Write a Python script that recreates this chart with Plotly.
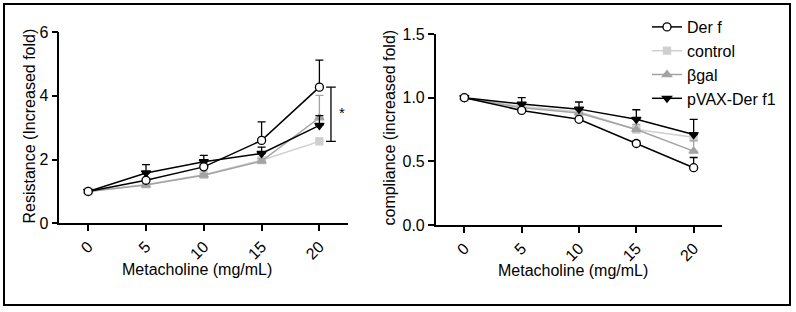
import plotly.graph_objects as go

# ---------------- data ----------------
dose = [0, 5, 10, 15, 20]
series_names = ["Der f", "control", "βgal", "pVAX-Der f1"]

# Resistance (increased fold)
res_derf = [1.00, 1.35, 1.77, 2.60, 4.27]
res_derf_err = [0.02, 0.05, 0.08, 0.58, 0.85]
res_control = [1.00, 1.22, 1.52, 1.98, 2.57]
res_control_err = [0.02, 0.03, 0.04, 0.06, 0.10]
res_bgal = [1.00, 1.20, 1.51, 1.95, 3.31]
res_bgal_err = [0.02, 0.04, 0.05, 0.08, 0.70]
res_pvax = [1.00, 1.58, 1.93, 2.19, 3.07]
res_pvax_err = [0.02, 0.26, 0.20, 0.20, 0.31]

# Compliance (increased fold)
com_derf = [1.00, 0.90, 0.83, 0.64, 0.45]
com_derf_err = [0.005, 0.01, 0.01, 0.02, 0.08]
com_control = [1.00, 0.93, 0.89, 0.75, 0.69]
com_control_err = [0.005, 0.02, 0.02, 0.03, 0.03]
com_bgal = [1.00, 0.92, 0.88, 0.75, 0.58]
com_bgal_err = [0.005, 0.02, 0.02, 0.04, 0.08]
com_pvax = [1.00, 0.95, 0.91, 0.83, 0.71]
com_pvax_err = [0.005, 0.05, 0.056, 0.075, 0.12]

res_yticks = [0, 2, 4, 6]
com_yticks = [0.0, 0.5, 1.0, 1.5]
x_title = "Metacholine (mg/mL)"
res_title = "Resistance (Increased fold)"
com_title = "compliance (increased fold)"
sig_label = "*"

# ---------------- styles ----------------
FONT = "Arial, Liberation Sans, sans-serif"
styles = {
    "Der f": dict(color="#000000", symbol="circle", fill="#ffffff", size=8, rank=1),
    "control": dict(color="#cfcfcf", symbol="square", fill="#cfcfcf", size=7, rank=2),
    "βgal": dict(color="#a3a3a3", symbol="triangle-up", fill="#a3a3a3", size=8, rank=3),
    "pVAX-Der f1": dict(color="#000000", symbol="triangle-down", fill="#000000", size=8, rank=4),
}

W, H = 796, 312

def px_x(p):
    return p / W

def px_y(p):
    return 1 - p / H

fig = go.Figure()

res_data = {"Der f": (res_derf, res_derf_err), "control": (res_control, res_control_err),
            "βgal": (res_bgal, res_bgal_err), "pVAX-Der f1": (res_pvax, res_pvax_err)}
com_data = {"Der f": (com_derf, com_derf_err), "control": (com_control, com_control_err),
            "βgal": (com_bgal, com_bgal_err), "pVAX-Der f1": (com_pvax, com_pvax_err)}

draw_order = ["control", "βgal", "pVAX-Der f1", "Der f"]
for panel, data, xa, ya, showleg in [(1, res_data, "x", "y", False), (2, com_data, "x2", "y2", True)]:
    for name in draw_order:
        st = styles[name]
        vals, errs = data[name]
        fig.add_trace(go.Scatter(
            x=dose, y=vals, name=name, mode="lines+markers",
            xaxis=xa, yaxis=ya, showlegend=showleg, legendrank=st["rank"],
            line=dict(color=st["color"], width=1.5),
            marker=dict(symbol=st["symbol"], size=st["size"], color=st["fill"],
                        line=dict(color=st["color"], width=1.3)),
            error_y=dict(type="data", array=errs, arrayminus=[0] * len(errs), symmetric=False,
                         color=st["color"], thickness=1.3, width=4),
            cliponaxis=False,
        ))

# significance bracket between Der f and control at the highest dose
bx = dose[-1] + 1.0
y_top = res_derf[-1]
y_bot = res_control[-1]
cap = 0.42
shapes = [
    dict(type="line", xref="x", yref="y", x0=bx, x1=bx, y0=y_bot, y1=y_top, line=dict(color="black", width=1.3)),
    dict(type="line", xref="x", yref="y", x0=bx - cap, x1=bx + cap, y0=y_top, y1=y_top, line=dict(color="black", width=1.3)),
    dict(type="line", xref="x", yref="y", x0=bx - cap, x1=bx + cap, y0=y_bot, y1=y_bot, line=dict(color="black", width=1.3)),
    # outer frame
    dict(type="rect", xref="paper", yref="paper", x0=px_x(4), x1=px_x(790), y0=px_y(305), y1=px_y(4),
         line=dict(color="black", width=2)),
]

annotations = [
    dict(text=sig_label, xref="x", yref="y", x=bx + 0.95, y=(y_top + y_bot) / 2 + 0.05,
         showarrow=False, font=dict(size=15, color="black", family=FONT)),
    dict(text=x_title, xref="paper", yref="paper", x=px_x(197), y=px_y(269), xanchor="center", yanchor="middle",
         showarrow=False, font=dict(size=16, color="black", family=FONT)),
    dict(text=x_title, xref="paper", yref="paper", x=px_x(573), y=px_y(270.5), xanchor="center", yanchor="middle",
         showarrow=False, font=dict(size=16, color="black", family=FONT)),
    dict(text=res_title, xref="paper", yref="paper", x=px_x(28.5), y=px_y(126), xanchor="center", yanchor="middle",
         textangle=-90, showarrow=False, font=dict(size=16, color="black", family=FONT)),
    dict(text=com_title, xref="paper", yref="paper", x=px_x(389), y=px_y(127.5), xanchor="center", yanchor="middle",
         textangle=-90, showarrow=False, font=dict(size=16, color="black", family=FONT)),
]

axis_common = dict(showline=True, linecolor="black", linewidth=1.5, ticks="outside", ticklen=6,
                   tickwidth=1.5, tickcolor="black", showgrid=False, zeroline=False, automargin=False,
                   tickfont=dict(size=16, color="black", family=FONT))

fig.update_layout(
    width=W, height=H,
    margin=dict(l=0, r=0, t=0, b=0, pad=0, autoexpand=False),
    paper_bgcolor="white", plot_bgcolor="white",
    font=dict(family=FONT, size=16, color="black"),
    xaxis=dict(domain=[px_x(59.3), px_x(348.3)], range=[-2.5, 22.5], tickvals=dose,
               tickangle=-45, anchor="y", **axis_common),
    yaxis=dict(domain=[px_y(223.3), px_y(32)], range=[0, 6], tickvals=res_yticks, anchor="x", **axis_common),
    xaxis2=dict(domain=[px_x(435.7), px_x(722.3)], range=[-2.5, 22.5], tickvals=dose,
                tickangle=-45, anchor="y2", **axis_common),
    yaxis2=dict(domain=[px_y(225), px_y(34)], range=[0, 1.5], tickvals=com_yticks, tickformat=".1f",
                anchor="x2", **axis_common),
    legend=dict(x=px_x(647), y=px_y(10), xanchor="left", yanchor="top", bgcolor="rgba(0,0,0,0)",
                font=dict(size=16, color="black", family=FONT), tracegroupgap=0),
    shapes=shapes,
    annotations=annotations,
)

fig.write_html("out.html", config={"displayModeBar": False},
               post_script="document.body.style.margin='0px';")
